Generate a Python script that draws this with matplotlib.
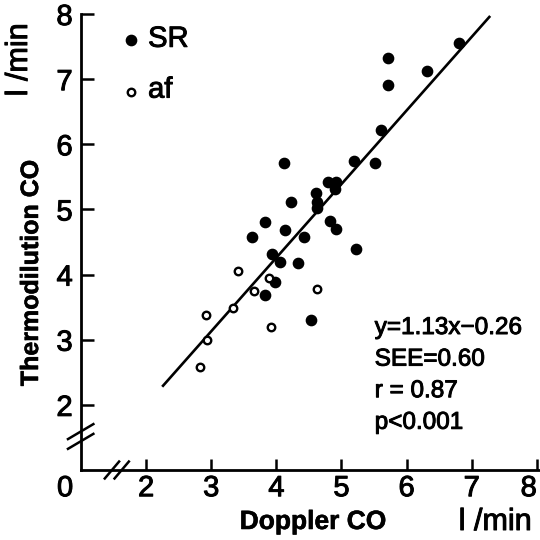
import matplotlib
matplotlib.use("Agg")
import matplotlib.pyplot as plt
import matplotlib.patheffects as pe

plt.rcParams['font.family'] = ['Liberation Sans', 'DejaVu Sans']

# SR (sinus rhythm) patients, filled dots
sr_x = [6.81, 5.71, 6.32, 5.72, 5.61, 4.11, 5.19, 5.52, 4.79, 4.92,
        4.90, 4.61, 4.62, 4.62, 4.22, 4.82, 4.92, 4.13, 4.42, 5.22,
        3.82, 3.62, 3.93, 4.05, 4.33, 3.98, 3.82, 4.53]
sr_y = [7.55, 7.32, 7.12, 6.91, 6.22, 5.71, 5.74, 5.71, 5.42, 5.42,
        5.31, 5.25, 5.12, 5.03, 5.11, 4.83, 4.70, 4.69, 4.58, 4.39,
        4.80, 4.58, 4.32, 4.19, 4.18, 3.89, 3.69, 3.31]

# af (atrial fibrillation) patients, open dots
af_x = [3.41, 3.88, 3.65, 4.62, 3.33, 2.92, 3.91, 2.93, 2.83]
af_y = [4.06, 3.95, 3.75, 3.78, 3.49, 3.38, 3.20, 3.00, 2.58]

# regression line y = 1.13x - 0.26
slope, intercept = 1.13, -0.26
fit_x = [2.26, 7.27]

ticks = [2, 3, 4, 5, 6, 7, 8]
stats = ["y=1.13x\u22120.26", "SEE=0.60", "r = 0.87", "p<0.001"]

heavy = [pe.withStroke(linewidth=0.7, foreground='black')]
light = [pe.withStroke(linewidth=0.4, foreground='black')]

fig = plt.figure(figsize=(5.4, 5.4), dpi=100)
ax = fig.add_axes([0.15, 0.1296, 0.849, 0.8444])
ax.set_xlim(1, 8.04)
ax.set_ylim(1, 8.0)

for s in ['top', 'right']:
    ax.spines[s].set_visible(False)
for s in ['left', 'bottom']:
    ax.spines[s].set_linewidth(2.0)

ax.set_xticks(ticks)
ax.set_yticks(ticks)
ax.set_xticklabels([str(t) for t in ticks])
ax.set_yticklabels([str(t) for t in ticks])
ax.tick_params(axis='both', direction='in', width=1.8, labelsize=21)
ax.tick_params(axis='y', length=9, pad=6)
ax.tick_params(axis='x', length=8, pad=3)
for lab in ax.get_xticklabels() + ax.get_yticklabels():
    lab.set_path_effects(heavy)
# last x label sits on the figure edge, nudge it in
ax.get_xticklabels()[-1].set_horizontalalignment('right')
ax.get_xticklabels()[-1].set_x(8.12)

# regression line
ax.plot(fit_x, [slope * v + intercept for v in fit_x], color='black', lw=1.9)

ax.plot(sr_x, sr_y, 'o', color='black', ms=7.4, clip_on=False)
ax.plot(af_x, af_y, 'o', mfc='white', mec='black', mew=1.7, ms=5.4)

# legend
ax.plot([1.77], [7.6], 'o', color='black', ms=7.4)
ax.plot([1.77], [6.8], 'o', mfc='white', mec='black', mew=1.7, ms=5.4)
ax.text(2.03, 7.62, "SR", fontsize=21, va='center', ha='left', path_effects=heavy)
ax.text(2.03, 6.84, "af", fontsize=21, va='center', ha='left', path_effects=heavy)

# statistics
for i, s in enumerate(stats):
    ax.text(5.51, 3.18 - i * 0.485, s, fontsize=17.5, va='center', ha='left',
            path_effects=heavy)

# origin label and axis breaks
ax.text(0.755, 0.72, "0", fontsize=21, ha='center', va='center', clip_on=False,
        path_effects=heavy)
brk = 1.53
for d in (-0.075, 0.075):
    ax.plot([0.80, 1.19], [brk - 0.13 + d, brk + 0.10 + d], color='black',
            lw=1.8, clip_on=False)
    ax.plot([1.44 + d, 1.66 + d], [0.87, 1.13], color='black',
            lw=1.8, clip_on=False)

# axis labels
fig.text(313 / 540, 1 - 522 / 540, "Doppler CO", fontsize=19, fontweight='bold',
         ha='center', va='center', path_effects=light)
fig.text(495 / 540, 1 - 522 / 540, "l /min", fontsize=22, ha='center', va='center',
         path_effects=heavy)
fig.text(31 / 540, 1 - 273 / 540, "Thermodilution CO", fontsize=18,
         fontweight='bold', rotation=90, ha='center', va='center', path_effects=light)
fig.text(19 / 540, 1 - 60 / 540, "l /min", fontsize=22, rotation=90,
         ha='center', va='center', path_effects=heavy)

fig.savefig("out.png", dpi=100)
